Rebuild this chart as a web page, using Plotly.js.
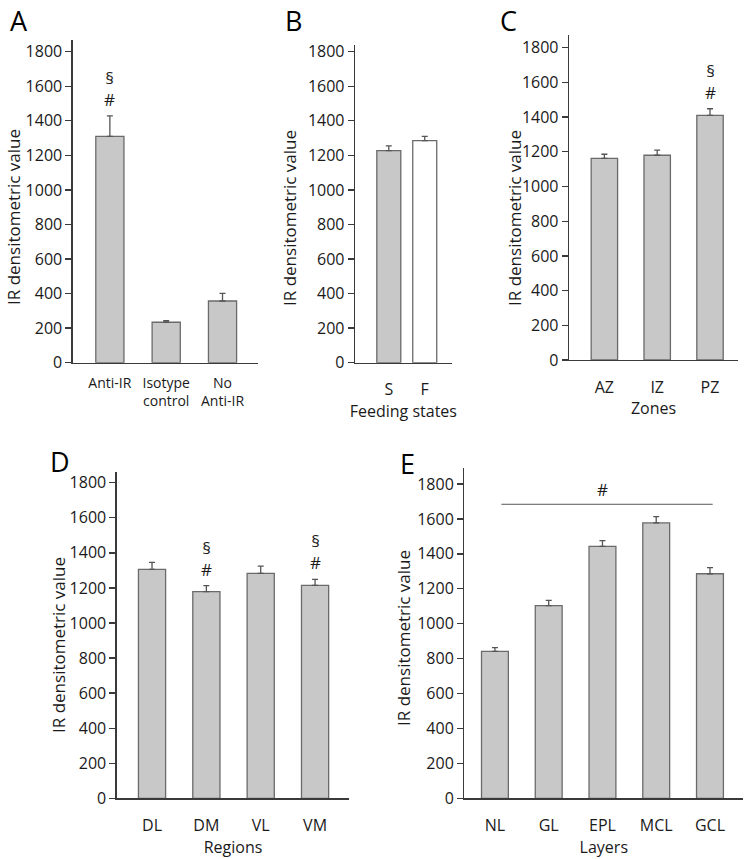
<!DOCTYPE html>
<html><head><meta charset="utf-8">
<script src="https://cdn.plot.ly/plotly-3.0.1.min.js"></script>
<style>html,body{margin:0;padding:0;background:#fff}</style>
</head><body>
<div id="chart" style="width:749px;height:859px"></div>
<script>
// Panel A
const catsA = ["Anti-IR", "Isotype<br>control", "No<br>Anti-IR"];
const valsA = [1310, 234, 357];
const errA  = [118, 9, 44];
// Panel B
const catsB = ["S", "F"];
const valsB = [1227, 1285];
const errB  = [28, 25];
// Panel C
const catsC = ["AZ", "IZ", "PZ"];
const valsC = [1162, 1180, 1410];
const errC  = [24, 30, 38];
// Panel D
const catsD = ["DL", "DM", "VL", "VM"];
const valsD = [1306, 1179, 1283, 1215];
const errD  = [40, 34, 42, 34];
// Panel E
const catsE = ["NL", "GL", "EPL", "MCL", "GCL"];
const valsE = [842, 1103, 1443, 1577, 1286];
const errE  = [21, 31, 33, 36, 35];
const barLineE = 1684;

const yTicks = [0, 200, 400, 600, 800, 1000, 1200, 1400, 1600, 1800];
const yTitle = "IR densitometric value";

const FONT = "Open Sans, sans-serif";
const TXT = "#1a1a1a";
const GRAY = "#c8c8c8";
const EDGE = "#6a6a6a";
const AXC = "#3a3a3a";

function barTrace(cats, vals, errs, xa, ya, fill, w) {
  return {
    type: "bar", x: cats.map((c, i) => i), y: vals, xaxis: xa, yaxis: ya,
    width: w || 0.5,
    marker: {color: fill || GRAY, line: {color: EDGE, width: 1.3}},
    error_y: {type: "data", symmetric: false, array: errs, arrayminus: errs.map(() => 0),
              color: "#555", thickness: 1.3, width: 3},
    showlegend: false, hoverinfo: "skip"
  };
}

const W = 749, H = 859;
const px = v => v / W, py = v => 1 - v / H;

const traces = [
  barTrace(catsA, valsA, errA, "x", "y"),
  barTrace(catsB, valsB, errB, "x2", "y2", [GRAY, "#ffffff"], 0.667),
  barTrace(catsC, valsC, errC, "x3", "y3"),
  barTrace(catsD, valsD, errD, "x4", "y4"),
  barTrace(catsE, valsE, errE, "x5", "y5")
];

function xAxis(dom, range, cats, anchor, title, fs, so) {
  return {
    domain: dom, range: range, anchor: anchor,
    tickmode: "array", tickvals: cats.map((c, i) => i), ticktext: cats,
    ticks: "", showgrid: false, zeroline: false, showline: true,
    linecolor: AXC, linewidth: 1.3, ticklabelstandoff: so,
    tickfont: {family: FONT, size: fs || 16, color: TXT},
    title: title ? {text: title, font: {family: FONT, size: 16, color: TXT}, standoff: 3} : {text: ""},
    fixedrange: true
  };
}
function yAxis(dom, top, anchor) {
  return {
    domain: dom, range: [0, top], anchor: anchor,
    tickmode: "array", tickvals: yTicks,
    ticks: "outside", ticklen: 6, tickwidth: 1.3, tickcolor: AXC,
    showgrid: false, zeroline: false, showline: true,
    linecolor: AXC, linewidth: 1.3,
    tickfont: {family: FONT, size: 16, color: TXT},
    title: {text: ""},
    fixedrange: true
  };
}

function letter(t, x, y) {
  return {text: t, x: px(x), y: py(y), xref: "paper", yref: "paper", xanchor: "left", yanchor: "top",
          showarrow: false, font: {family: FONT, size: 27, color: "#000"}};
}
function ytitle(x, y) {
  return {text: yTitle, x: px(x), y: py(y), xref: "paper", yref: "paper", xanchor: "center", yanchor: "middle",
          textangle: -90, showarrow: false, font: {family: FONT, size: 17, color: TXT}};
}
function sig(xa, ya, x, y) {
  return {text: "§<br>#", x: x, y: y, xref: xa, yref: ya, yanchor: "bottom", showarrow: false, yshift: 3,
          font: {family: FONT, size: 17, color: TXT}};
}

const layout = {
  width: W, height: H,
  margin: {l: 0, r: 0, t: 0, b: 0},
  paper_bgcolor: "#fff", plot_bgcolor: "rgba(0,0,0,0)",
  font: {family: FONT, color: TXT},
  bargap: 0,
  xaxis:  xAxis([px(72.7), px(258)], [-0.66, 2.63], catsA, "y", null, 14, 7),
  yaxis:  yAxis([py(362.7), py(40)], (362.7 - 40) / 0.1728, "x"),
  xaxis2: xAxis([px(355), px(451.7)], [-0.94, 1.75], catsB, "y2", "Feeding states", 16, 12),
  yaxis2: yAxis([py(362.7), py(45)], (362.7 - 45) / 0.1728, "x2"),
  xaxis3: xAxis([px(569), px(738)], [-0.67, 2.53], catsC, "y3", "Zones", 16, 12),
  yaxis3: yAxis([py(360), py(35)], (360 - 35) / 0.1735, "x3"),
  xaxis4: xAxis([px(116.7), px(349.3)], [-0.65, 3.63], catsD, "y4", "Regions", 16, 12),
  yaxis4: yAxis([py(798.3), py(471.7)], (798.3 - 471.7) / 0.1753, "x4"),
  xaxis5: xAxis([px(464.3), px(743.3)], [-0.57, 4.62], catsE, "y5", "Layers", 16, 12),
  yaxis5: yAxis([py(798.3), py(468.3)], (798.3 - 468.3) / 0.1746, "x5"),
  shapes: [
    {type: "line", xref: "x5", yref: "y5", x0: 0.12, x1: 4.05, y0: barLineE, y1: barLineE,
     line: {color: "#555", width: 1}}
  ],
  annotations: [
    letter("A", 8, 0), letter("B", 283, 0), letter("C", 498, 0),
    letter("D", 48, 441), letter("E", 398, 443),
    ytitle(14, 217), ytitle(290, 218), ytitle(515, 218), ytitle(58, 645), ytitle(403, 638),
    sig("x", "y", 0, valsA[0] + errA[0]),
    sig("x3", "y3", 2, valsC[2] + errC[2]),
    sig("x4", "y4", 1, valsD[1] + errD[1]),
    sig("x4", "y4", 3, valsD[3] + errD[3]),
    {text: "#", x: 2, y: barLineE, xref: "x5", yref: "y5", yanchor: "bottom", showarrow: false, yshift: 1,
     font: {family: FONT, size: 17, color: TXT}}
  ]
};

Plotly.newPlot("chart", traces, layout, {displayModeBar: false, staticPlot: true});
</script>
</body></html>
